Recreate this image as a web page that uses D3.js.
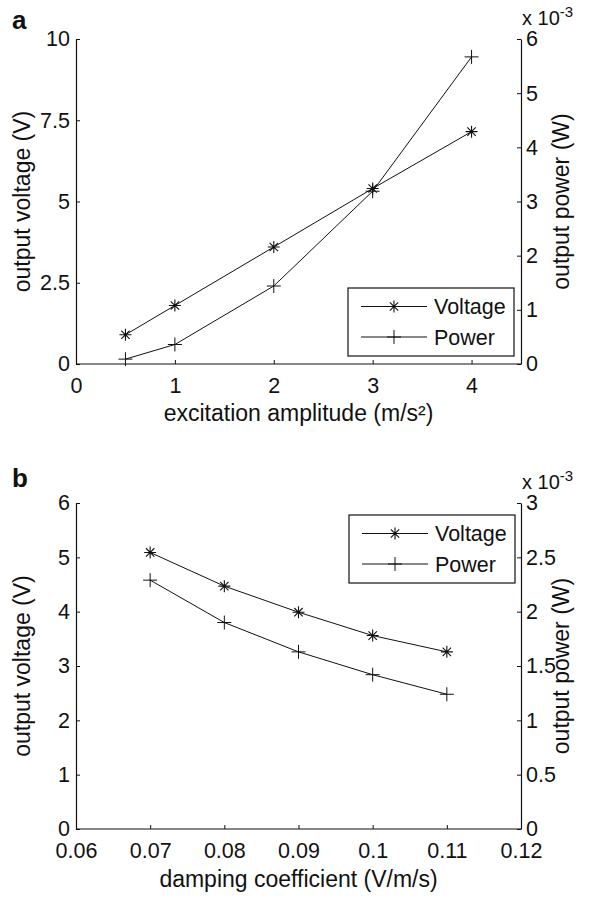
<!DOCTYPE html>
<html><head><meta charset="utf-8">
<script src="https://cdn.jsdelivr.net/npm/d3@7"></script>
<style>
body{margin:0;background:#fff;}
svg text{font-family:"Liberation Sans",Arial,Helvetica,sans-serif;fill:#111;}
</style></head>
<body><svg id="c" width="593" height="899"></svg>
<script>
// Panel a
const aX = [0.5, 1, 2, 3, 4];
const aVoltage = [0.9, 1.8, 3.6, 5.4, 7.15];
const aPower = [0.09, 0.36, 1.44, 3.19, 5.67]; // x 10^-3 W
const aXTicks = [0, 1, 2, 3, 4];
const aYTicks = [0, 2.5, 5, 7.5, 10];
const aYTickLabels = ["0", "2.5", "5", "7.5", "10"];
const aY2Ticks = [0, 1, 2, 3, 4, 5, 6];
// Panel b
const bX = [0.07, 0.08, 0.09, 0.10, 0.11];
const bVoltage = [5.09, 4.47, 3.99, 3.56, 3.26];
const bPower = [2.29, 1.90, 1.63, 1.42, 1.24]; // x 10^-3 W
const bXTicks = [0.06, 0.07, 0.08, 0.09, 0.10, 0.11, 0.12];
const bXTickLabels = ["0.06", "0.07", "0.08", "0.09", "0.1", "0.11", "0.12"];
const bYTicks = [0, 1, 2, 3, 4, 5, 6];
const bY2Ticks = [0, 0.5, 1, 1.5, 2, 2.5, 3];
const bY2TickLabels = ["0", "0.5", "1", "1.5", "2", "2.5", "3"];

const svg = d3.select("#c");
const FS = 21.5, TFS = 23;

function star(g, x, y, r) {
  const d = `M${x-r},${y}L${x+r},${y}M${x},${y-r}L${x},${y+r}` +
    `M${x-r*0.7},${y-r*0.7}L${x+r*0.7},${y+r*0.7}M${x-r*0.7},${y+r*0.7}L${x+r*0.7},${y-r*0.7}`;
  g.append("path").attr("d", d).attr("stroke", "#111").attr("stroke-width", 1.1).attr("fill", "none");
}
function plus(g, x, y, r) {
  g.append("path").attr("d", `M${x-r},${y}L${x+r},${y}M${x},${y-r}L${x},${y+r}`)
    .attr("stroke", "#111").attr("stroke-width", 1).attr("fill", "none");
}

function panel(o) {
  const L = 76, R = 521, T = o.top, B = o.bottom;
  const x = d3.scaleLinear().domain(o.xDomain).range([L, R]);
  const y = d3.scaleLinear().domain(o.yDomain).range([B, T]);
  const y2 = d3.scaleLinear().domain(o.y2Domain).range([B, T]);
  const g = svg.append("g");

  const xa = g.append("g").attr("transform", `translate(0,${B})`)
    .call(d3.axisBottom(x).tickValues(o.xTicks).tickSizeInner(-4).tickSizeOuter(0).tickPadding(14)
      .tickFormat((d, i) => o.xTickLabels[i]));
  const ya = g.append("g").attr("transform", `translate(${L},0)`)
    .call(d3.axisLeft(y).tickValues(o.yTicks).tickSizeInner(-4).tickSizeOuter(0).tickPadding(6)
      .tickFormat((d, i) => o.yTickLabels[i]));
  const y2a = g.append("g").attr("transform", `translate(${R},0)`)
    .call(d3.axisRight(y2).tickValues(o.y2Ticks).tickSizeInner(-4).tickSizeOuter(0).tickPadding(5)
      .tickFormat((d, i) => o.y2TickLabels[i]));
  [xa, ya, y2a].forEach(a => {
    a.selectAll("path.domain").attr("stroke", "#111").attr("stroke-width", 1.2);
    a.selectAll("line").attr("stroke", "#111");
    a.selectAll("text").attr("font-size", FS).attr("fill", "#111")
      .style("font-family", '"Liberation Sans",Arial,sans-serif');
  });
  xa.select("path.domain").attr("d", `M${L},0H${R}`);

  const line = d3.line();
  const vPts = o.xs.map((d, i) => [x(d), y(o.v[i])]);
  const pPts = o.xs.map((d, i) => [x(d), y2(o.p[i])]);
  g.append("path").attr("d", line(vPts)).attr("fill", "none").attr("stroke", "#111").attr("stroke-width", 1);
  g.append("path").attr("d", line(pPts)).attr("fill", "none").attr("stroke", "#111").attr("stroke-width", 1);
  vPts.forEach(p => star(g, p[0], p[1], 6));
  pPts.forEach(p => plus(g, p[0], p[1], 7));

  // labels
  g.append("text").attr("x", 12).attr("y", o.letterY).attr("font-size", 26).attr("font-weight", "bold").text(o.letter);
  g.append("text").attr("transform", `translate(${(L+R)/2},${B+o.xTitleDy})`).attr("text-anchor", "middle")
    .attr("font-size", TFS).text(o.xTitle);
  g.append("text").attr("transform", `translate(30,${(T+B)/2}) rotate(-90)`).attr("text-anchor", "middle")
    .attr("font-size", TFS).text(o.yTitle);
  g.append("text").attr("transform", `translate(569,${(T+B)/2}) rotate(-90)`).attr("text-anchor", "middle")
    .attr("font-size", TFS).text(o.y2Title);
  const ex = g.append("text").attr("x", 522).attr("y", T - 14).attr("font-size", 20);
  ex.append("tspan").text("x 10");
  ex.append("tspan").attr("dy", -8).attr("font-size", 15).text("-3");

  // legend
  const lg = g.append("g");
  lg.append("rect").attr("x", o.leg[0]).attr("y", o.leg[1]).attr("width", 166).attr("height", 68)
    .attr("fill", "#fff").attr("stroke", "#111").attr("stroke-width", 1.2);
  const rows = [["Voltage", star, 18.5], ["Power", plus, 49]];
  rows.forEach(r => {
    const yy = o.leg[1] + r[2];
    lg.append("line").attr("x1", o.leg[0] + 13).attr("x2", o.leg[0] + 79).attr("y1", yy).attr("y2", yy)
      .attr("stroke", "#111");
    r[1](lg, o.leg[0] + 46, yy, r[1] === star ? 6 : 7);
    lg.append("text").attr("x", o.leg[0] + 86).attr("y", yy + 7.5).attr("font-size", FS).text(r[0]);
  });
}

panel({
  letter: "a", letterY: 29, top: 39, bottom: 364, xDomain: [0, 4.5], yDomain: [0, 10], y2Domain: [0, 6],
  xTicks: aXTicks, xTickLabels: aXTicks.map(String), yTicks: aYTicks, yTickLabels: aYTickLabels,
  y2Ticks: aY2Ticks, y2TickLabels: aY2Ticks.map(String),
  xs: aX, v: aVoltage, p: aPower, xTitleDy: 57,
  xTitle: "excitation amplitude (m/s²)", yTitle: "output voltage (V)", y2Title: "output power (W)",
  leg: [348, 288]
});
panel({
  letter: "b", letterY: 487, top: 503, bottom: 829, xDomain: [0.06, 0.12], yDomain: [0, 6], y2Domain: [0, 3],
  xTicks: bXTicks, xTickLabels: bXTickLabels, yTicks: bYTicks, yTickLabels: bYTicks.map(String),
  y2Ticks: bY2Ticks, y2TickLabels: bY2TickLabels,
  xs: bX, v: bVoltage, p: bPower, xTitleDy: 58,
  xTitle: "damping coefficient (V/m/s)", yTitle: "output voltage (V)", y2Title: "output power (W)",
  leg: [349, 515]
});
</script></body></html>
